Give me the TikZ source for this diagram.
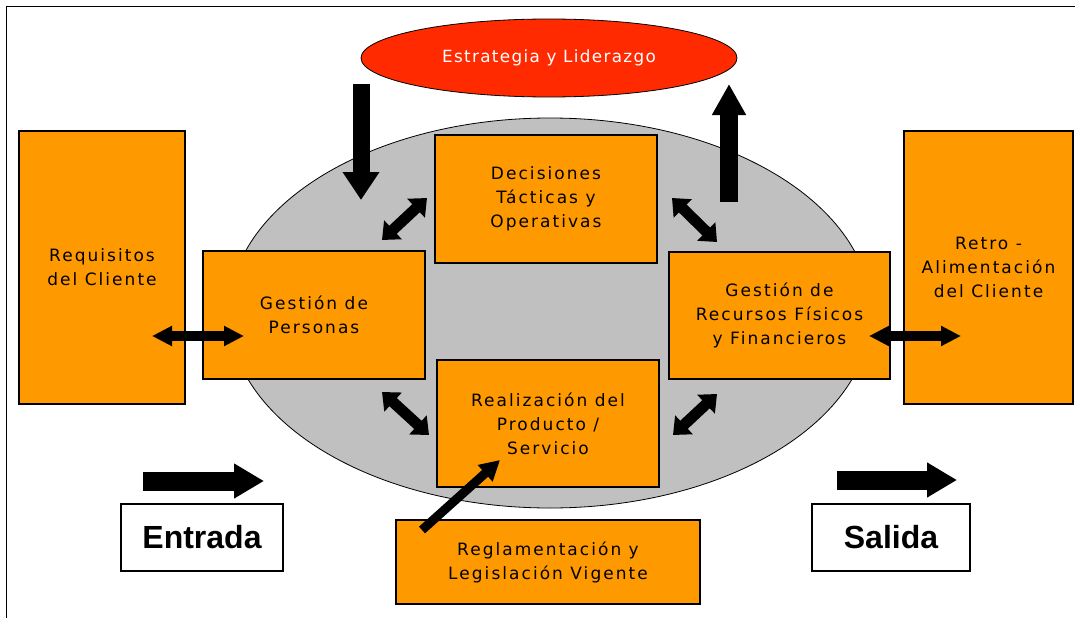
\documentclass[tikz,border=0pt]{standalone}
\usepackage{fontspec}
\usetikzlibrary{arrows.meta,shapes.geometric}
\newfontfamily\boxfont[LetterSpace=12]{DejaVu Sans}
\newfontfamily\ellfont[LetterSpace=8]{DejaVu Sans}
\newfontfamily\bigfont{Liberation Sans}
\definecolor{orng}{HTML}{FF9900}
\definecolor{gry}{HTML}{C0C0C0}
\definecolor{rd}{HTML}{FF2A00}
\tikzset{
  box/.style={draw=black, line width=1.2pt, fill=orng, rectangle, inner sep=0pt,
    align=center, font=\boxfont\fontsize{17}{24}\selectfont},
  lbl/.style={draw=black, line width=1.2pt, fill=white, rectangle, inner sep=0pt,
    font=\bigfont\bfseries\fontsize{32}{34}\selectfont},
  fat/.style={draw=black, line width=18pt, -{Triangle[length=30pt,width=34pt]}},
  dbl/.style={draw=black, line width=10pt, {Triangle[length=20pt,width=19pt]}-{Triangle[length=20pt,width=19pt]}},
  diag/.style={draw=black, line width=11pt, {Triangle[length=15pt,width=25pt]}-{Triangle[length=15pt,width=25pt]}},
  thin/.style={draw=black, line width=9pt, -{Triangle[length=20pt,width=21pt]}}
}
\begin{document}
\begin{tikzpicture}[x=1pt,y=-1pt]
\useasboundingbox (0,0) rectangle (1075,618);
\fill[white] (0,0) rectangle (1075,618);
\draw[line width=1.5pt] (6.5,618) -- (6.5,6.5) -- (1075,6.5);

% central gray ellipse
\node[ellipse, draw=black, line width=0.8pt, fill=gry, minimum width=642pt, minimum height=390pt, inner sep=0pt] (core) at (550,313) {};
% strategy ellipse
\node[ellipse, draw=black, line width=0.8pt, fill=rd, minimum width=376pt, minimum height=78pt, inner sep=0pt,
  text=white, font=\ellfont\fontsize{16.8}{24}\selectfont] (est) at (549,58) {Estrategia y Liderazgo};

% boxes
\node[box, minimum width=166pt, minimum height=273pt] (req) at (102,267.5) {Requisitos\\del Cliente};
\node[box, minimum width=169pt, minimum height=273pt] (ret) at (988.5,267.5) {Retro -\\Alimentación\\del Cliente};
\node[box, minimum width=222pt, minimum height=128pt] (gp) at (314,315) {Gestión de\\Personas};
\node[box, minimum width=222pt, minimum height=128pt] (dec) at (546,199) {Decisiones\\Tácticas y\\Operativas};
\node[box, minimum width=221pt, minimum height=127pt] (grf) at (779.5,315.5) {Gestión de\\Recursos Físicos\\y Financieros};
\node[box, minimum width=222pt, minimum height=127pt] (real) at (548,423.5) {Realización del\\Producto /\\Servicio};
\node[box, minimum width=304pt, minimum height=84pt] (regl) at (548,562) {Reglamentación y\\Legislación Vigente};

\node[lbl, minimum width=162pt, minimum height=67pt] (ent) at (202,537.5) {Entrada};
\node[lbl, minimum width=158pt, minimum height=67pt] (sal) at (891,537.5) {Salida};

% arrow end points
\coordinate (dA) at (361,84);  \coordinate (dB) at (361,200);
\coordinate (uA) at (729,202); \coordinate (uB) at (729,84);
\coordinate (eA) at (143,481); \coordinate (eB) at (264,481);
\coordinate (sA) at (837,480); \coordinate (sB) at (957,480);
\coordinate (lA) at (152,336); \coordinate (lB) at (244,336);
\coordinate (rA) at (869,336); \coordinate (rB) at (961,336);
\coordinate (t1) at (382,240); \coordinate (t2) at (427,198);
\coordinate (t3) at (672,198); \coordinate (t4) at (717,242);
\coordinate (b1) at (382,392); \coordinate (b2) at (429,435);
\coordinate (b3) at (673,435); \coordinate (b4) at (717,394);
\coordinate (gA) at (422,530); \coordinate (gB) at (500,460);

\draw[fat, line width=17pt, -{Triangle[length=28pt,width=35pt]}] (dA) -- (dB);
\draw[fat, -{Triangle[length=31pt,width=32pt]}] (uA) -- (uB);
\draw[fat, line width=19pt, -{Triangle[length=30pt,width=33pt]}] (eA) -- (eB);
\draw[fat, line width=19pt, -{Triangle[length=30pt,width=33pt]}] (sA) -- (sB);
\draw[dbl] (lA) -- (lB);
\draw[dbl] (rA) -- (rB);
\draw[diag] (t1) -- (t2);
\draw[diag] (t3) -- (t4);
\draw[diag] (b1) -- (b2);
\draw[diag] (b3) -- (b4);
\draw[thin] (gA) -- (gB);
\end{tikzpicture}
\end{document}
